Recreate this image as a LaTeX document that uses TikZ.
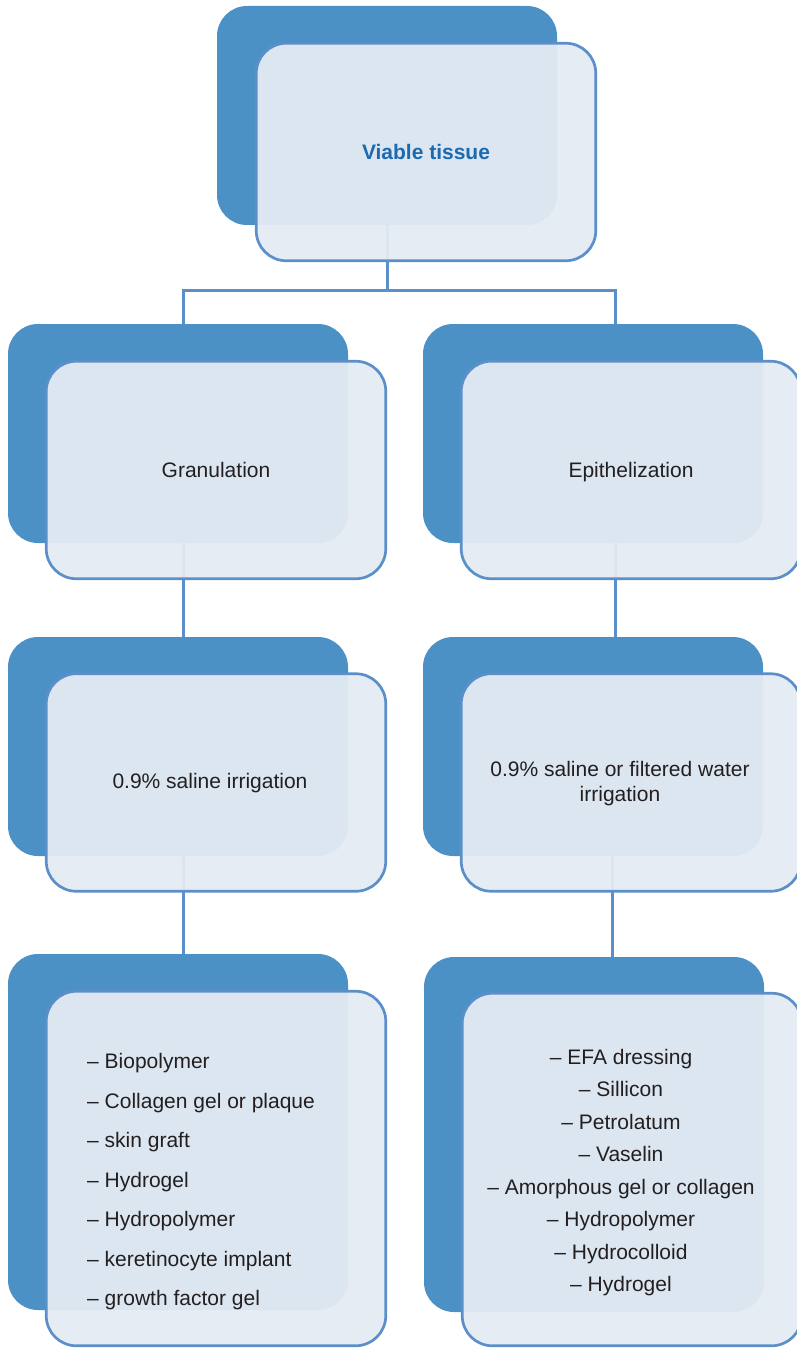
\documentclass[tikz,border=0pt]{standalone}
\usepackage{fontspec}
\setmainfont{Liberation Sans}
\usetikzlibrary{positioning}
\definecolor{backblue}{RGB}{76,145,198}
\definecolor{frontblue}{RGB}{228,235,243}
\definecolor{edgeblue}{RGB}{91,143,201}
\definecolor{titleblue}{RGB}{28,106,176}
\definecolor{inkgray}{RGB}{35,31,32}
\tikzset{
  backbox/.style={rectangle, rounded corners=30pt, fill=backblue, inner sep=0pt,
    minimum width=340pt, minimum height=#1},
  backbox/.default=219pt,
  frontbox/.style={rectangle, rounded corners=30pt, draw=edgeblue, line width=2.7pt,
    fill=frontblue, fill opacity=0.95, inner sep=0pt,
    minimum width=339.5pt, minimum height=#1},
  frontbox/.default=217.5pt,
  boxtext/.style={text=inkgray, align=center, inner sep=0pt, font=\fontsize{21}{25}\selectfont},
  link/.style={draw=edgeblue, line width=3pt}
}

\begin{document}
\begin{tikzpicture}[x=1pt,y=-1pt]
    \useasboundingbox (0,0) rectangle (796,1348);
    % back plates
    \node[backbox] (top-b) at (387,115.5) {};
    \node[backbox] (gran-b) at (178,433.5) {};
    \node[backbox] (epi-b) at (593,433.5) {};
    \node[backbox] (gsal-b) at (178,746.5) {};
    \node[backbox] (esal-b) at (593,746.5) {};
    \node[backbox=356pt] (gdress-b) at (178,1132) {};
    \node[backbox=355pt] (edress-b) at (594,1134.5) {};
    % links
    \draw[link] (top-b.south) -- ++(0,65) coordinate (fork);
    \draw[link] ([xshift=5pt]gran-b.north) |- (fork) -| ([xshift=22pt]epi-b.north);
    \draw[link] ([xshift=5pt]gran-b.south) -- ([xshift=5pt]gsal-b.north);
    \draw[link] ([xshift=22pt]epi-b.south) -- ([xshift=22pt]esal-b.north);
    \draw[link] ([xshift=5pt]gsal-b.south) -- ([xshift=5pt]gdress-b.north);
    \draw[link] ([xshift=19pt]esal-b.south) -- ([xshift=18pt]edress-b.north);
    % front plates
    \node[frontbox] (top) at (426,152) {};
    \node[frontbox] (gran) at (216,470) {};
    \node[frontbox] (epi) at (631,470) {};
    \node[frontbox] (gsal) at (216,782.5) {};
    \node[frontbox] (esal) at (631,782.5) {};
    \node[frontbox=354.5pt] (gdress) at (216,1168.5) {};
    \node[frontbox=352.5pt] (edress) at (632,1169.5) {};
    % texts
    \node[boxtext, text=titleblue, font=\fontsize{21}{25}\selectfont\bfseries] (top-t) at (top) {Viable tissue};
    \node[boxtext] (gran-t) at (gran) {Granulation};
    \node[boxtext] (epi-t) at (631,472.5) {Epithelization};
    \node[boxtext] (gsal-t) at (210,783.5) {0.9\% saline irrigation};
    \node[boxtext] (esal-t) at (620,784) {0.9\% saline or filtered water\\irrigation};
    \node[boxtext, align=left, anchor=west, font=\fontsize{21}{39.5}\selectfont] (gdress-t) at (87,1182)
      {-- Biopolymer\\-- Collagen gel or plaque\\-- skin graft\\-- Hydrogel\\-- Hydropolymer\\-- keretinocyte implant\\-- growth factor gel};
    \node[boxtext, font=\fontsize{21}{32.5}\selectfont] (edress-t) at (621,1172.5)
      {-- EFA dressing\\-- Sillicon\\-- Petrolatum\\-- Vaselin\\-- Amorphous gel or collagen\\-- Hydropolymer\\-- Hydrocolloid\\-- Hydrogel};
\end{tikzpicture}
\end{document}
